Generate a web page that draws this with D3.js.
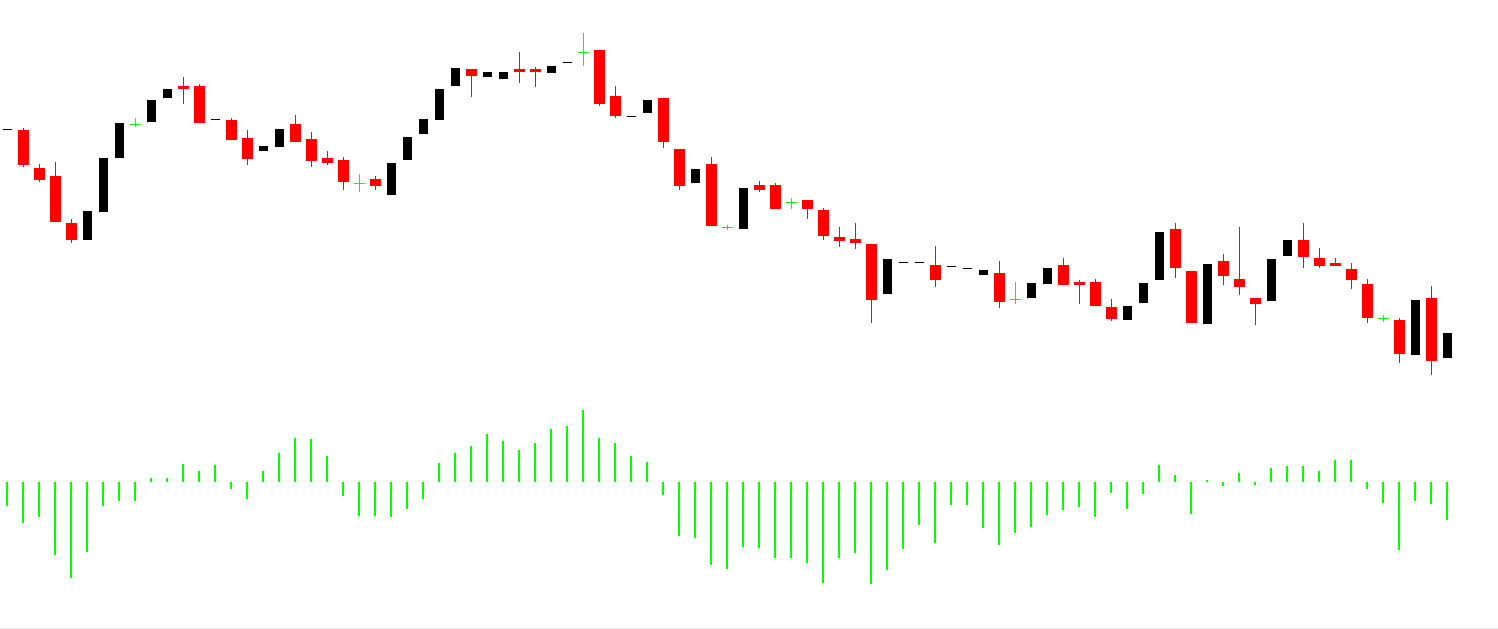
<!DOCTYPE html>
<html>
<head>
<meta charset="utf-8">
<script src="https://cdn.jsdelivr.net/npm/d3@7"></script>
<style>
html,body{margin:0;padding:0;background:#fff;overflow:hidden;}
svg{display:block;}
</style>
</head>
<body>
<svg id="chart" width="1498" height="629"></svg>
<script>
const opens = [1.3271,1.3270,1.3232,1.3224,1.3177,1.3160,1.3188,1.3242,1.3276,1.3278,
1.3302,1.3314,1.3314,1.3281,1.3280,1.3262,1.3249,1.3253,1.3276,1.3261,
1.3242,1.3240,1.3217,1.3221,1.3205,1.3240,1.3266,1.3280,1.3314,1.3331,
1.3323,1.3321,1.3331,1.3331,1.3327,1.3338,1.3348,1.3350,1.3304,1.3284,
1.3287,1.3302,1.3251,1.3217,1.3236,1.3173,1.3171,1.3215,1.3215,1.3198,
1.3200,1.3190,1.3163,1.3161,1.3156,1.3106,1.3138,1.3138,1.3135,1.3134,
1.3132,1.3125,1.3127,1.3101,1.3102,1.3116,1.3135,1.3118,1.3118,1.3093,
1.3080,1.3097,1.3120,1.3171,1.3129,1.3076,1.3139,1.3121,1.3102,1.3099,
1.3144,1.3160,1.3142,1.3137,1.3131,1.3116,1.3082,1.3080,1.3045,1.3102,
1.3042];
const highs = [1.3271,1.3272,1.3236,1.3238,1.3181,1.3189,1.3242,1.3277,1.3282,1.3300,
1.3311,1.3323,1.3316,1.3281,1.3282,1.3270,1.3254,1.3271,1.3285,1.3268,
1.3249,1.3243,1.3226,1.3224,1.3237,1.3263,1.3281,1.3311,1.3332,1.3331,
1.3328,1.3328,1.3348,1.3333,1.3334,1.3338,1.3367,1.3350,1.3314,1.3284,
1.3300,1.3302,1.3251,1.3231,1.3243,1.3175,1.3212,1.3219,1.3217,1.3202,
1.3200,1.3192,1.3173,1.3177,1.3156,1.3141,1.3138,1.3138,1.3154,1.3134,
1.3132,1.3130,1.3139,1.3118,1.3117,1.3132,1.3142,1.3120,1.3121,1.3101,
1.3094,1.3117,1.3168,1.3177,1.3129,1.3136,1.3146,1.3173,1.3102,1.3141,
1.3160,1.3177,1.3152,1.3142,1.3137,1.3121,1.3085,1.3082,1.3100,1.3114,
1.3067];
const lows = [1.3271,1.3233,1.3218,1.3178,1.3157,1.3160,1.3188,1.3242,1.3273,1.3278,
1.3302,1.3296,1.3277,1.3281,1.3260,1.3235,1.3249,1.3253,1.3258,1.3233,
1.3235,1.3210,1.3208,1.3210,1.3205,1.3240,1.3266,1.3280,1.3314,1.3303,
1.3323,1.3321,1.3317,1.3313,1.3327,1.3338,1.3334,1.3294,1.3282,1.3284,
1.3287,1.3252,1.3210,1.3217,1.3174,1.3170,1.3171,1.3208,1.3191,1.3191,
1.3181,1.3160,1.3153,1.3151,1.3077,1.3106,1.3138,1.3138,1.3113,1.3134,
1.3132,1.3125,1.3092,1.3096,1.3102,1.3116,1.3115,1.3096,1.3094,1.3079,
1.3080,1.3097,1.3120,1.3122,1.3077,1.3076,1.3115,1.3105,1.3075,1.3099,
1.3144,1.3132,1.3132,1.3134,1.3111,1.3077,1.3078,1.3037,1.3045,1.3025,
1.3042];
const closes = [1.3271,1.3235,1.3220,1.3178,1.3160,1.3189,1.3242,1.3277,1.3276,1.3300,
1.3311,1.3311,1.3277,1.3281,1.3260,1.3241,1.3254,1.3271,1.3258,1.3239,
1.3237,1.3218,1.3217,1.3214,1.3237,1.3263,1.3281,1.3311,1.3332,1.3324,
1.3328,1.3328,1.3328,1.3328,1.3334,1.3338,1.3348,1.3296,1.3284,1.3284,
1.3300,1.3258,1.3214,1.3231,1.3174,1.3173,1.3212,1.3210,1.3191,1.3198,
1.3191,1.3164,1.3159,1.3157,1.3100,1.3141,1.3138,1.3138,1.3120,1.3134,
1.3132,1.3130,1.3098,1.3101,1.3117,1.3132,1.3115,1.3115,1.3094,1.3081,
1.3094,1.3117,1.3168,1.3132,1.3077,1.3136,1.3124,1.3113,1.3096,1.3141,
1.3160,1.3143,1.3134,1.3134,1.3120,1.3082,1.3082,1.3046,1.3100,1.3039,
1.3067];
// oscillator histogram, in points (1e-4)
const histogram = [-24,-41,-35,-73,-96,-70,-24,-19,-19,4,4,18,11,17,-7,-17,11,29,44,43,26,-14,-34,-34,
-35,-27,-17,19,29,36,48,41,32,39,53,56,72,44,39,26,20,-13,-54,-56,-83,-87,-65,
-66,-76,-76,-81,-101,-76,-71,-102,-88,-67,-43,-61,-23,-23,-46,-63,-51,-45,-33,-28,-25,-35,-11,
-27,-12,17,7,-32,2,-4,9,-3,14,16,16,11,22,22,-7,-21,-68,-19,-22,-38];

const data = opens.map((o, i) => ({i, o, h: highs[i], l: lows[i], c: closes[i], hist: histogram[i]}));

const svg = d3.select('#chart');
const W = 1498, H = 629;

const x = d3.scaleLinear().domain([0, data.length - 1]).range([7, 1447]);
const y = d3.scaleLinear().domain([1.30, 1.34]).range([400, 0]);
const yh = d3.scaleLinear().domain([0, 100]).range([482, 382]);

const RED = '#ff0000', BLACK = '#000000', GREEN = '#00ff00';

function kind(d) {
  if (d.c > d.o) return 'up';
  if (d.c < d.o) return 'down';
  return (d.h > d.o || d.l < d.o) ? 'dojiWick' : 'doji';
}

const g = svg.append('g');

// wicks (bear candles and doji crosses)
g.selectAll('rect.wick')
  .data(data.filter(d => { const k = kind(d); return (k === 'down' || k === 'dojiWick') && d.h > d.l; }))
  .join('rect')
  .attr('class', 'wick')
  .attr('x', d => Math.round(x(d.i)))
  .attr('width', 1)
  .attr('y', d => Math.round(y(d.h)))
  .attr('height', d => Math.max(1, Math.round(y(d.l)) - Math.round(y(d.h))))
  .attr('fill', d => kind(d) === 'down' ? RED : GREEN);

// bodies
g.selectAll('rect.body')
  .data(data)
  .join('rect')
  .attr('class', 'body')
  .attr('x', d => { const k = kind(d); return Math.round(x(d.i)) - ((k === 'down' || k === 'dojiWick') ? 5 : 4); })
  .attr('width', d => { const k = kind(d); return (k === 'down' || k === 'dojiWick') ? 11 : 9; })
  .attr('y', d => Math.round(y(Math.max(d.o, d.c))))
  .attr('height', d => Math.max(1, Math.round(y(Math.min(d.o, d.c))) - Math.round(y(Math.max(d.o, d.c)))))
  .attr('fill', d => { const k = kind(d); return k === 'down' ? RED : (k === 'dojiWick' ? GREEN : BLACK); });

// histogram
svg.append('g').selectAll('rect')
  .data(data)
  .join('rect')
  .attr('x', d => Math.round(x(d.i)) - 1)
  .attr('width', 2)
  .attr('y', d => Math.round(d.hist >= 0 ? yh(d.hist) : yh(0)))
  .attr('height', d => Math.max(1, Math.abs(Math.round(yh(d.hist)) - Math.round(yh(0)))))
  .attr('fill', GREEN);

// bottom separator
svg.append('rect').attr('x', 0).attr('y', H - 1).attr('width', W).attr('height', 1).attr('fill', '#e3e3e3');
</script>
</body>
</html>
